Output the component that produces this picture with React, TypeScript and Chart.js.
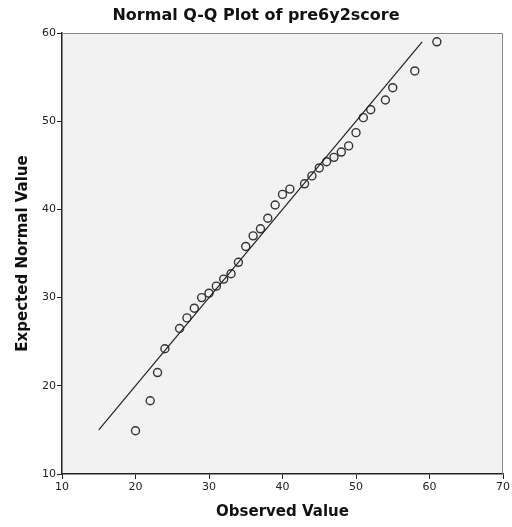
import React, { useEffect, useRef } from "react";
import { Chart, registerables } from "chart.js";

Chart.register(...registerables);

const titleText = "Normal Q-Q Plot of pre6y2score";
const xTitle = "Observed Value";
const yTitle = "Expected Normal Value";

const observed = [20, 22, 23, 24, 26, 27, 28, 29, 30, 31, 32, 33, 34, 35, 36, 37, 38, 39, 40, 41, 43, 44, 45, 46, 47, 48, 49, 50, 51, 52, 54, 55, 58, 61];
const expected = [14.9, 18.3, 21.5, 24.2, 26.5, 27.7, 28.8, 30.0, 30.5, 31.3, 32.1, 32.7, 34.0, 35.8, 37.0, 37.8, 39.0, 40.5, 41.7, 42.3, 42.9, 43.8, 44.7, 45.4, 45.9, 46.5, 47.2, 48.7, 50.4, 51.3, 52.4, 53.8, 55.7, 59.0];

const lineX = [15, 59];
const lineY = [15, 59];

const xMin = 10, xMax = 70, yMin = 10, yMax = 60, tickStep = 10;

const FONT = "'DejaVu Sans', 'Liberation Sans', sans-serif";

const framePlugin = {
  id: "frame",
  beforeDraw(chart: any) {
    const { ctx, chartArea: a } = chart;
    ctx.save();
    ctx.fillStyle = "#fff";
    ctx.fillRect(0, 0, chart.width, chart.height);
    ctx.fillStyle = "#f2f2f2";
    ctx.fillRect(a.left, a.top, a.right - a.left, a.bottom - a.top);
    ctx.restore();
  },
  afterDatasetsDraw(chart: any) {
    const { ctx, chartArea: a } = chart;
    ctx.save();
    ctx.strokeStyle = "#888";
    ctx.lineWidth = 1;
    ctx.beginPath();
    ctx.moveTo(a.left, a.top + 0.5);
    ctx.lineTo(a.right - 0.5, a.top + 0.5);
    ctx.lineTo(a.right - 0.5, a.bottom);
    ctx.stroke();
    ctx.fillStyle = "#111";
    ctx.font = `bold 16px ${FONT}`;
    ctx.textAlign = "center";
    ctx.textBaseline = "middle";
    ctx.fillText(titleText, chart.width / 2, 16);
    ctx.restore();
  },
};

export default function App() {
  const ref = useRef<HTMLCanvasElement | null>(null);
  useEffect(() => {
    if (!ref.current) return;
    const pts = observed.map((x, i) => ({ x, y: expected[i] }));
    const line = lineX.map((x, i) => ({ x, y: lineY[i] }));
    const chart = new Chart(ref.current, {
      type: "scatter",
      data: {
        datasets: [
          {
            type: "line",
            data: line,
            borderColor: "#222",
            borderWidth: 1.2,
            pointRadius: 0,
            fill: false,
          } as any,
          {
            data: pts,
            pointRadius: 4,
            pointBorderWidth: 1.4,
            borderColor: "#222",
            backgroundColor: "rgba(0,0,0,0)",
            pointBackgroundColor: "rgba(0,0,0,0)",
            pointBorderColor: "#333",
          },
        ],
      },
      options: {
        animation: false,
        responsive: false,
        maintainAspectRatio: false,
        layout: { padding: { top: 33, right: 9, left: 0, bottom: 0 } },
        plugins: { legend: { display: false }, tooltip: { enabled: false }, title: { display: false } },
        scales: {
          x: {
            type: "linear",
            min: xMin,
            max: xMax,
            ticks: { stepSize: tickStep, color: "#222", font: { family: FONT, size: 11 }, padding: 2, maxRotation: 0 },
            grid: { display: true, drawOnChartArea: false, drawTicks: true, tickLength: 5, color: "#222" },
            border: { display: true, color: "#222", width: 1.5 },
            title: { display: true, text: xTitle, color: "#111", font: { family: FONT, size: 15, weight: "bold" }, padding: { top: 0, bottom: 6 } },
            afterFit: (s: any) => { s.height = 53; },
          },
          y: {
            type: "linear",
            min: yMin,
            max: yMax,
            ticks: { stepSize: tickStep, color: "#222", font: { family: FONT, size: 11 }, padding: 1 },
            grid: { display: true, drawOnChartArea: false, drawTicks: true, tickLength: 5, color: "#222" },
            border: { display: true, color: "#222", width: 1.5 },
            title: { display: true, text: yTitle, color: "#111", font: { family: FONT, size: 15, weight: "bold" }, padding: { top: 14, bottom: 0 } },
            afterFit: (s: any) => { s.width = 62; },
          },
        },
      } as any,
      plugins: [framePlugin],
    });
    return () => chart.destroy();
  }, []);
  return (
    <div style={{ position: "fixed", left: 0, top: 0, width: 512, height: 527, background: "#fff" }}>
      <canvas ref={ref} width={512} height={527} style={{ display: "block" }} />
    </div>
  );
}
